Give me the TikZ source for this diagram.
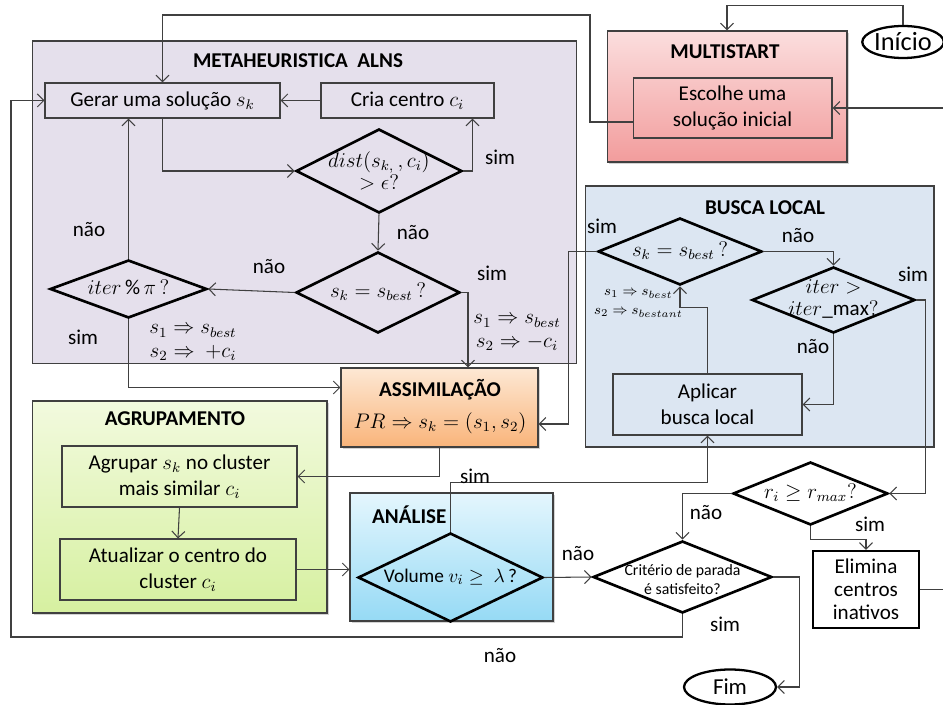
\documentclass[tikz,border=0pt]{standalone}
\usepackage{fontspec}
\setmainfont{Carlito}
\usetikzlibrary{shapes.geometric, arrows.meta, positioning, calc, shadows}

\definecolor{alnsfill}{RGB}{229,224,236}
\definecolor{buscafill}{RGB}{220,230,242}
\definecolor{multitop}{RGB}{251,222,222}
\definecolor{multibot}{RGB}{242,156,156}
\definecolor{assimtop}{RGB}{253,232,212}
\definecolor{assimbot}{RGB}{249,180,122}
\definecolor{agruptop}{RGB}{242,250,222}
\definecolor{agrupbot}{RGB}{214,240,160}
\definecolor{analtop}{RGB}{228,246,253}
\definecolor{analbot}{RGB}{150,218,245}
\definecolor{linegray}{RGB}{64,64,64}

% text of a decision, kept out of the diamond's size
\newcommand{\decisiontext}[1]{\makebox[0pt]{\begin{tabular}{@{}c@{}}#1\end{tabular}}}

\begin{document}
\begin{tikzpicture}[
    x=0.02cm, y=-0.02cm,
    every node/.style={font=\fontsize{12}{15}\selectfont},
    groupbox/.style={rectangle, draw=linegray, line width=0.6pt, inner sep=0pt},
    shadowed/.style={drop shadow={opacity=0.35, shadow xshift=1.2pt, shadow yshift=-1.2pt}},
    box/.style={rectangle, draw=linegray, line width=0.6pt, align=center, inner sep=0pt},
    decision/.style={diamond, draw=black, line width=1.5pt, inner sep=0pt},
    terminal/.style={ellipse, draw=black, line width=1.3pt, inner sep=0pt},
    grouptitle/.style={font=\fontsize{12}{14}\selectfont\bfseries},
    lbl/.style={font=\fontsize{12}{14}\selectfont},
    arrow/.style={-{Straight Barb[length=1.3mm, width=2.6mm]}, draw=linegray, line width=0.6pt},
]
\useasboundingbox (0,0) rectangle (943,705);

% Groups
\node[groupbox, fill=alnsfill, minimum width=10.9cm, minimum height=6.46cm] (alns) at (304.5,202.5) {};
\node[groupbox, shadowed, top color=multitop, bottom color=multibot, minimum width=4.8cm, minimum height=2.62cm] (multi) at (727,96.5) {};
\node[groupbox, fill=buscafill, minimum width=6.98cm, minimum height=5.22cm] (busca) at (759.5,316.5) {};
\node[groupbox, shadowed, top color=assimtop, bottom color=assimbot, minimum width=3.94cm, minimum height=1.58cm] (assim) at (439.5,407.5) {};
\node[groupbox, shadowed, top color=agruptop, bottom color=agrupbot, minimum width=5.9cm, minimum height=4.24cm] (agrup) at (179.5,507) {};
\node[groupbox, shadowed, top color=analtop, bottom color=analbot, minimum width=4.06cm, minimum height=2.56cm] (anal) at (451.5,557) {};

% Group titles
\node[grouptitle] (alnsT) at (298,61) {METAHEURISTICA\ \ ALNS};
\node[grouptitle] (multiT) at (725,52) {MULTISTART};
\node[grouptitle] (buscaT) at (765,208) {BUSCA LOCAL};
\node[grouptitle] (assimT) at (440,390) {ASSIMILAÇÃO};
\node[grouptitle] (agrupT) at (175,419) {AGRUPAMENTO};
\node[grouptitle, anchor=west] (analT) at (366,515) {ANÁLISE};
\node (assimF) at (440,423) {$PR \Rightarrow s_k = (s_1,s_2)$};

% Steps
\node[box, minimum width=4.7cm, minimum height=0.7cm] (gerar) at (162.5,100.5) {Gerar\ uma solução $s_k$};
\node[box, minimum width=3.46cm, minimum height=0.7cm] (cria) at (407.5,100.5) {Cria centro $c_i$};
\node[box, minimum width=3.98cm, minimum height=1.2cm] (escolhe) at (732.5,108) {Escolhe uma\\solução inicial};
\node[box, minimum width=4.7cm, minimum height=1.22cm] (agrupar) at (179.5,476.5) {Agrupar $s_k$ no cluster\\mais similar $c_i$};
\node[box, minimum width=4.72cm, minimum height=1.22cm] (atual) at (178,569.5) {Atualizar\ o centro do\\cluster $c_i$};
\node[box, minimum width=3.78cm, minimum height=1.22cm] (aplicar) at (707.5,404.5) {Aplicar\\busca local};
\node[box, draw=black, line width=1.4pt, fill=white, minimum width=2.12cm, minimum height=1.54cm, font=\fontsize{12}{13}\selectfont] (elimina) at (866,589.5) {Elimina\\centros\\inativos};

% Decisions
\node[decision, minimum width=3.32cm, minimum height=1.68cm, font=\fontsize{12}{12.5}\selectfont] (dist) at (379,171) {\raisebox{-4.7pt}[0pt][0pt]{\decisiontext{$dist(s_{k,}\,,c_i)$\\$>\epsilon?$}}};
\node[decision, minimum width=3.28cm, minimum height=1.62cm] (skA) at (378,292.5) {\decisiontext{$s_k = s_{best}\,?$}};
\node[decision, minimum width=3.14cm, minimum height=1.16cm] (iterpi) at (128.5,289) {\decisiontext{$iter\,\%\,\pi\,?$}};
\node[decision, minimum width=3.28cm, minimum height=1.34cm] (skB) at (680,251.5) {\decisiontext{$s_k = s_{best}\,?$}};
\node[decision, minimum width=3.26cm, minimum height=1.32cm, font=\fontsize{12}{12.5}\selectfont] (itermax) at (833.5,300) {\decisiontext{$iter >$\\$iter\_\mathrm{max}?$}};
\node[decision, minimum width=3.1cm, minimum height=1.26cm] (ri) at (810.5,493.5) {\decisiontext{$r_i \geq r_{max}?$}};
\node[decision, minimum width=3.7cm, minimum height=1.78cm, font=\fontsize{11}{13}\selectfont] (vol) at (450.5,577.5) {\decisiontext{Volume $v_i \geq\ \lambda$\,?}};
\node[decision, minimum width=3.58cm, minimum height=1.44cm, font=\fontsize{9}{10.8}\selectfont] (crit) at (682.5,577) {\raisebox{-4.5pt}[0pt][0pt]{\decisiontext{Critério de parada\\é satisfeito?}}};

% Start and end
\node[terminal, minimum width=1.56cm, minimum height=0.64cm, font=\fontsize{15}{16}\selectfont] (inicio) at (903,42) {Início};
\node[terminal, minimum width=1.84cm, minimum height=0.7cm, font=\fontsize{13}{14}\selectfont] (fim) at (730,687) {Fim};

% Connectors
\draw[arrow] (inicio.north) -- ++(0,-19) -| (multi.north);
\draw[arrow] ([yshift=-0.28cm]escolhe.west) -| (590,15) -| (gerar.north);
\draw[arrow] (cria.west) -- (gerar.east);
\draw[arrow] (gerar.south) |- (dist.west);
\draw[arrow] (dist.east) -| ([xshift=1.3cm]cria.south);
\draw[arrow] (dist.south) -- (skA.north);
\draw[arrow] (skA.west) -- (iterpi.east);
\draw[arrow] (iterpi.north) -- (iterpi.north |- gerar.south);
\draw[arrow] (iterpi.south) |- ([yshift=0.4cm]assim.west);
\draw[arrow] (skA.east) -| ([xshift=0.57cm]assim.north);
\draw[arrow] (assim.south) |- (agrupar.east);
\draw[arrow] (agrupar.south) -- (atual.north);
\draw[arrow] (atual.east) -- (atual.east -| anal.west);
\draw[arrow] (vol.north) -- ++(0,-49) -| (aplicar.south);
\draw[arrow] (vol.east) -- (crit.west);
\draw[arrow] (crit.south) |- (11,637) |- (gerar.west);
\draw[arrow] (crit.east) -- ++(26,0) |- (fim.east);
\draw[arrow] (skB.west) -- ++(-28,0) |- ([yshift=-0.33cm]assim.east);
\draw[arrow] (skB.east) -| (itermax.north);
\draw[arrow] (itermax.east) -- ++(9,0) |- (ri.east);
\draw[arrow] (itermax.south) |- (aplicar.east);
\draw[arrow] (aplicar.north) -- ++(0,-66) -| (skB.south);
\draw[arrow] (ri.west) -| (crit.north);
\draw[arrow] (ri.south) -- ++(0,13) -| (elimina.north);
\draw[arrow] (elimina.east) -- ++(23,0) |- (escolhe.east);

% Labels
\node[lbl] (l1) at (500,157) {sim};
\node[lbl] (l2) at (413,233) {não};
\node[lbl] (l3) at (269,267) {não};
\node[lbl] (l4) at (89,230) {não};
\node[lbl] (l5) at (83,337) {sim};
\node[lbl] (l6) at (492,273) {sim};
\node[lbl] (l7a) at (193,331) {$s_1 \Rightarrow s_{best}$};
\node[lbl] (l7b) at (193,353) {$s_2 \Rightarrow\ +c_i$};
\node[lbl] (l8a) at (517,321) {$s_1 \Rightarrow s_{best}$};
\node[lbl] (l8b) at (517,343) {$s_2 \Rightarrow -c_i$};
\node[lbl] (l9) at (475,476) {sim};
\node[lbl] (l10) at (578,554) {não};
\node[lbl] (l11) at (500,656) {não};
\node[lbl] (l12) at (725,624) {sim};
\node[lbl] (l13) at (602,226) {sim};
\node[lbl] (l14) at (798,236) {não};
\node[lbl] (l15) at (913,274) {sim};
\node[lbl] (l16) at (813,347) {não};
\node[lbl] (l17) at (706,513) {não};
\node[lbl] (l18) at (870,524) {sim};
\node[font=\fontsize{8.5}{9}\selectfont, anchor=west] (l19) at (598,294) {$s_1 \Rightarrow s_{best}$};
\node[font=\fontsize{8.5}{9}\selectfont, anchor=west] (l20) at (588,313) {$s_2 \Rightarrow s_{bestant}$};

\end{tikzpicture}
\end{document}
